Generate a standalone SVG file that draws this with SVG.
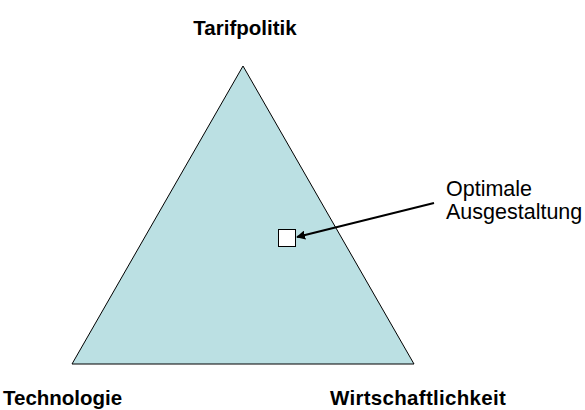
<svg xmlns="http://www.w3.org/2000/svg" width="585" height="410" viewBox="0 0 585 410">
<defs>
<style>
.lbl{font-family:"Liberation Sans",Arial,sans-serif;font-size:20.5px;font-weight:bold;fill:#000}
.note{font-family:"Liberation Sans",Arial,sans-serif;font-size:21.5px;fill:#000}
</style>
<marker id="ah" viewBox="0 0 10 10" refX="9" refY="5" markerWidth="4.5" markerHeight="4.5" orient="auto" markerUnits="strokeWidth">
<path d="M0,0 L10,5 L0,10 z" fill="#000"/>
</marker>
</defs>
<rect width="585" height="410" fill="#fff"/>
<g id="triangle">
<polygon points="243,66 414,364 72,364" fill="#bbe0e3" stroke="#000" stroke-width="1"/>
</g>
<g id="optimum">
<rect x="278.5" y="229.5" width="17" height="17" fill="#fff" stroke="#000" stroke-width="1"/>
</g>
<g id="connectors">
<line x1="434" y1="203" x2="297" y2="237" stroke="#000" stroke-width="2" marker-end="url(#ah)"/>
</g>
<g id="label-tarif"><text class="lbl" x="245" y="35" text-anchor="middle" font-size="21.5">Tarifpolitik</text></g>
<g id="label-tech"><text class="lbl" x="3" y="405" font-size="20">Technologie</text></g>
<g id="label-wirt"><text class="lbl" x="330" y="405" letter-spacing="0.3">Wirtschaftlichkeit</text></g>
<g id="label-opt"><text class="note" x="446" y="196">Optimale</text><text class="note" x="446" y="219">Ausgestaltung</text></g>
</svg>
